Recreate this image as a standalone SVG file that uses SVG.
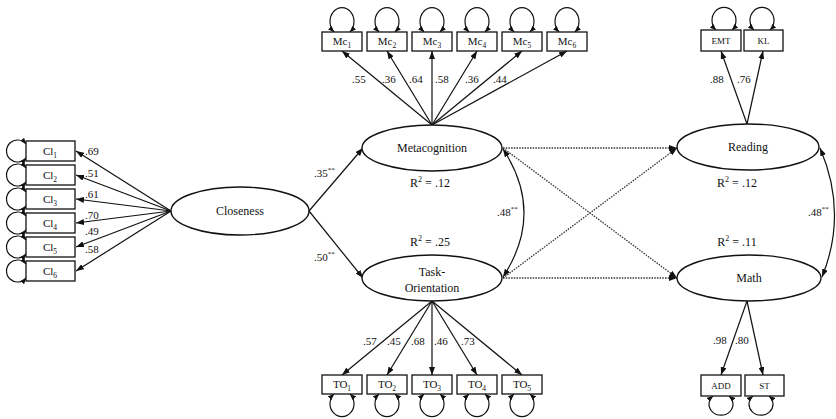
<svg xmlns="http://www.w3.org/2000/svg" width="836" height="419" viewBox="0 0 836 419">
<style>
text{font-family:"Liberation Serif","Times New Roman",serif;fill:#111}
.lab{font-size:12px;text-anchor:middle}
.num{font-size:11px}
.box{fill:#fff;stroke:#111;stroke-width:1.3}
.ell{fill:#fff;stroke:#111;stroke-width:1.4}
.bt{font-size:11px;text-anchor:middle}
.st{font-size:9px;text-anchor:middle}
.ln{fill:none;stroke:#111;stroke-width:1.2}
.dot{fill:none;stroke:#333;stroke-width:1.3;stroke-dasharray:1.5 1.2}
.arr{marker-end:url(#ah)}
.dbl{marker-start:url(#ah);marker-end:url(#ah)}
.loop{fill:none;stroke:#111;stroke-width:1.2;marker-start:url(#as);marker-end:url(#as)}
</style>
<defs>
<marker id="ah" viewBox="0 0 8 6" refX="8" refY="3" markerWidth="8" markerHeight="6" markerUnits="userSpaceOnUse" orient="auto-start-reverse"><path d="M0,0 L8,3 L0,6 z" fill="#111"/></marker>
<marker id="as" viewBox="0 0 6 5" refX="6" refY="2.5" markerWidth="6" markerHeight="5" markerUnits="userSpaceOnUse" orient="auto-start-reverse"><path d="M0,0 L6,2.5 L0,5 z" fill="#111"/></marker>
</defs>
<rect width="836" height="419" fill="#fff"/>

<g id="connectors">
<!-- Closeness to Cl -->
<line class="ln arr" x1="171" y1="211" x2="76" y2="151"/>
<line class="ln arr" x1="171" y1="211" x2="76" y2="175"/>
<line class="ln arr" x1="171" y1="211" x2="76" y2="199"/>
<line class="ln arr" x1="171" y1="211" x2="76" y2="223"/>
<line class="ln arr" x1="171" y1="211" x2="76" y2="247"/>
<line class="ln arr" x1="171" y1="211" x2="76" y2="271"/>
<!-- Cl loops -->
<path class="loop" d="M26 144 A11 11 0 1 0 26 158"/>
<path class="loop" d="M26 168 A11 11 0 1 0 26 182"/>
<path class="loop" d="M26 192 A11 11 0 1 0 26 206"/>
<path class="loop" d="M26 216 A11 11 0 1 0 26 230"/>
<path class="loop" d="M26 240 A11 11 0 1 0 26 254"/>
<path class="loop" d="M26 264 A11 11 0 1 0 26 278"/>
<!-- Closeness to latent -->
<line class="ln arr" x1="309" y1="211" x2="363" y2="148"/>
<line class="ln arr" x1="309" y1="211" x2="363" y2="278"/>
<!-- Meta to Mc -->
<line class="ln arr" x1="432" y1="125" x2="342" y2="51"/>
<line class="ln arr" x1="432" y1="125" x2="387" y2="51"/>
<line class="ln arr" x1="432" y1="125" x2="432" y2="51"/>
<line class="ln arr" x1="432" y1="125" x2="477" y2="51"/>
<line class="ln arr" x1="432" y1="125" x2="522" y2="51"/>
<line class="ln arr" x1="432" y1="125" x2="567" y2="51"/>
<!-- Mc loops -->
<path class="loop" d="M334 32 A12 14 0 1 1 350 32"/>
<path class="loop" d="M379 32 A12 14 0 1 1 395 32"/>
<path class="loop" d="M424 32 A12 14 0 1 1 440 32"/>
<path class="loop" d="M469 32 A12 14 0 1 1 485 32"/>
<path class="loop" d="M514 32 A12 14 0 1 1 530 32"/>
<path class="loop" d="M559 32 A12 14 0 1 1 575 32"/>
<!-- TO to boxes -->
<line class="ln arr" x1="432" y1="301" x2="342" y2="375"/>
<line class="ln arr" x1="432" y1="301" x2="387" y2="375"/>
<line class="ln arr" x1="432" y1="301" x2="432" y2="375"/>
<line class="ln arr" x1="432" y1="301" x2="477" y2="375"/>
<line class="ln arr" x1="432" y1="301" x2="522" y2="375"/>
<!-- TO loops -->
<path class="loop" d="M334 394 A12 13 0 1 0 350 394"/>
<path class="loop" d="M379 394 A12 13 0 1 0 395 394"/>
<path class="loop" d="M424 394 A12 13 0 1 0 440 394"/>
<path class="loop" d="M469 394 A12 13 0 1 0 485 394"/>
<path class="loop" d="M514 394 A12 13 0 1 0 530 394"/>
<!-- Reading to EMT/KL -->
<line class="ln arr" x1="747" y1="124" x2="721" y2="51"/>
<line class="ln arr" x1="747" y1="124" x2="763" y2="51"/>
<path class="loop" d="M716 30 A12 13 0 1 1 732 30"/>
<path class="loop" d="M754 30 A12 13 0 1 1 770 30"/>
<!-- Math to ADD/ST -->
<line class="ln arr" x1="747" y1="301" x2="721" y2="375"/>
<line class="ln arr" x1="747" y1="301" x2="763" y2="375"/>
<path class="loop" d="M713 396 A12 11 0 1 0 729 396"/>
<path class="loop" d="M753 396 A12 11 0 1 0 769 396"/>
<!-- covariances -->
<path class="ln dbl" d="M503 149 Q545 213 503 277"/>
<path class="ln dbl" d="M820 148 Q848 213 822 277"/>
<!-- dotted structural paths -->
<line class="dot arr" x1="503" y1="148" x2="677" y2="148"/>
<line class="dot arr" x1="503" y1="148" x2="677" y2="278"/>
<line class="dot arr" x1="503" y1="278" x2="677" y2="148"/>
<line class="dot arr" x1="503" y1="278" x2="677" y2="278"/>

<!-- labels -->
<g class="num">
<text x="85" y="155">.69</text>
<text x="85" y="177">.51</text>
<text x="85" y="198">.61</text>
<text x="85" y="219">.70</text>
<text x="85" y="235">.49</text>
<text x="85" y="253">.58</text>
<text x="352" y="83">.55</text>
<text x="382" y="83">.36</text>
<text x="409" y="83">.64</text>
<text x="435" y="83">.58</text>
<text x="465" y="83">.36</text>
<text x="493" y="83">.44</text>
<text x="363" y="345">.57</text>
<text x="387" y="345">.45</text>
<text x="411" y="345">.68</text>
<text x="434" y="345">.46</text>
<text x="461" y="345">.73</text>
<text x="710" y="83">.88</text>
<text x="737" y="83">.76</text>
<text x="713" y="344">.98</text>
<text x="735" y="344">.80</text>
<text x="314" y="177">.35<tspan font-size="7" dy="-5">**</tspan></text>
<text x="314" y="261">.50<tspan font-size="7" dy="-5">**</tspan></text>
<text x="497" y="216">.48<tspan font-size="7" dy="-5">**</tspan></text>
<text x="808" y="216">.48<tspan font-size="7" dy="-5">**</tspan></text>
</g>
<g class="lab">
<text x="430" y="187">R<tspan font-size="8" dy="-5">2</tspan><tspan dy="5"> = .12</tspan></text>
<text x="430" y="246">R<tspan font-size="8" dy="-5">2</tspan><tspan dy="5"> = .25</tspan></text>
<text x="737" y="187">R<tspan font-size="8" dy="-5">2</tspan><tspan dy="5"> = .12</tspan></text>
<text x="737" y="246">R<tspan font-size="8" dy="-5">2</tspan><tspan dy="5"> = .11</tspan></text>
</g>
</g>

<g id="closeness"><ellipse class="ell" cx="240" cy="211" rx="69" ry="24"/><text class="lab" x="240" y="215">Closeness</text></g>
<g id="metacognition"><ellipse class="ell" cx="432" cy="148" rx="70" ry="23"/><text class="lab" x="432" y="152">Metacognition</text></g>
<g id="task-orientation"><ellipse class="ell" cx="432" cy="278" rx="70" ry="23"/><text class="lab" x="432" y="276">Task-</text><text class="lab" x="432" y="292">Orientation</text></g>
<g id="reading"><ellipse class="ell" cx="748" cy="147" rx="71" ry="23"/><text class="lab" x="748" y="151">Reading</text></g>
<g id="math"><ellipse class="ell" cx="749" cy="278" rx="72" ry="23"/><text class="lab" x="749" y="282">Math</text></g>

<g id="cl1"><rect class="box" x="26" y="141" width="49" height="20"/><text class="bt" x="50" y="155">Cl<tspan font-size="7.5" dy="3">1</tspan></text></g>
<g id="cl2"><rect class="box" x="26" y="165" width="49" height="20"/><text class="bt" x="50" y="179">Cl<tspan font-size="7.5" dy="3">2</tspan></text></g>
<g id="cl3"><rect class="box" x="26" y="189" width="49" height="20"/><text class="bt" x="50" y="203">Cl<tspan font-size="7.5" dy="3">3</tspan></text></g>
<g id="cl4"><rect class="box" x="26" y="213" width="49" height="20"/><text class="bt" x="50" y="227">Cl<tspan font-size="7.5" dy="3">4</tspan></text></g>
<g id="cl5"><rect class="box" x="26" y="237" width="49" height="20"/><text class="bt" x="50" y="251">Cl<tspan font-size="7.5" dy="3">5</tspan></text></g>
<g id="cl6"><rect class="box" x="26" y="261" width="49" height="20"/><text class="bt" x="50" y="275">Cl<tspan font-size="7.5" dy="3">6</tspan></text></g>

<g id="mc1"><rect class="box" x="322" y="32" width="40" height="19"/><text class="bt" x="342" y="45">Mc<tspan font-size="7.5" dy="3">1</tspan></text></g>
<g id="mc2"><rect class="box" x="367" y="32" width="40" height="19"/><text class="bt" x="387" y="45">Mc<tspan font-size="7.5" dy="3">2</tspan></text></g>
<g id="mc3"><rect class="box" x="412" y="32" width="40" height="19"/><text class="bt" x="432" y="45">Mc<tspan font-size="7.5" dy="3">3</tspan></text></g>
<g id="mc4"><rect class="box" x="457" y="32" width="40" height="19"/><text class="bt" x="477" y="45">Mc<tspan font-size="7.5" dy="3">4</tspan></text></g>
<g id="mc5"><rect class="box" x="502" y="32" width="40" height="19"/><text class="bt" x="522" y="45">Mc<tspan font-size="7.5" dy="3">5</tspan></text></g>
<g id="mc6"><rect class="box" x="547" y="32" width="40" height="19"/><text class="bt" x="567" y="45">Mc<tspan font-size="7.5" dy="3">6</tspan></text></g>

<g id="to1"><rect class="box" x="322" y="375" width="40" height="19"/><text class="bt" x="342" y="388">TO<tspan font-size="7.5" dy="3">1</tspan></text></g>
<g id="to2"><rect class="box" x="367" y="375" width="40" height="19"/><text class="bt" x="387" y="388">TO<tspan font-size="7.5" dy="3">2</tspan></text></g>
<g id="to3"><rect class="box" x="412" y="375" width="40" height="19"/><text class="bt" x="432" y="388">TO<tspan font-size="7.5" dy="3">3</tspan></text></g>
<g id="to4"><rect class="box" x="457" y="375" width="40" height="19"/><text class="bt" x="477" y="388">TO<tspan font-size="7.5" dy="3">4</tspan></text></g>
<g id="to5"><rect class="box" x="502" y="375" width="40" height="19"/><text class="bt" x="522" y="388">TO<tspan font-size="7.5" dy="3">5</tspan></text></g>

<g id="emt"><rect class="box" x="701" y="30" width="40" height="21"/><text class="st" x="721" y="44">EMT</text></g>
<g id="kl"><rect class="box" x="744" y="30" width="39" height="21"/><text class="st" x="763.5" y="44">KL</text></g>
<g id="add"><rect class="box" x="701" y="375" width="40" height="21"/><text class="st" x="721" y="389">ADD</text></g>
<g id="st"><rect class="box" x="745" y="375" width="39" height="21"/><text class="st" x="764.5" y="389">ST</text></g>
</svg>
